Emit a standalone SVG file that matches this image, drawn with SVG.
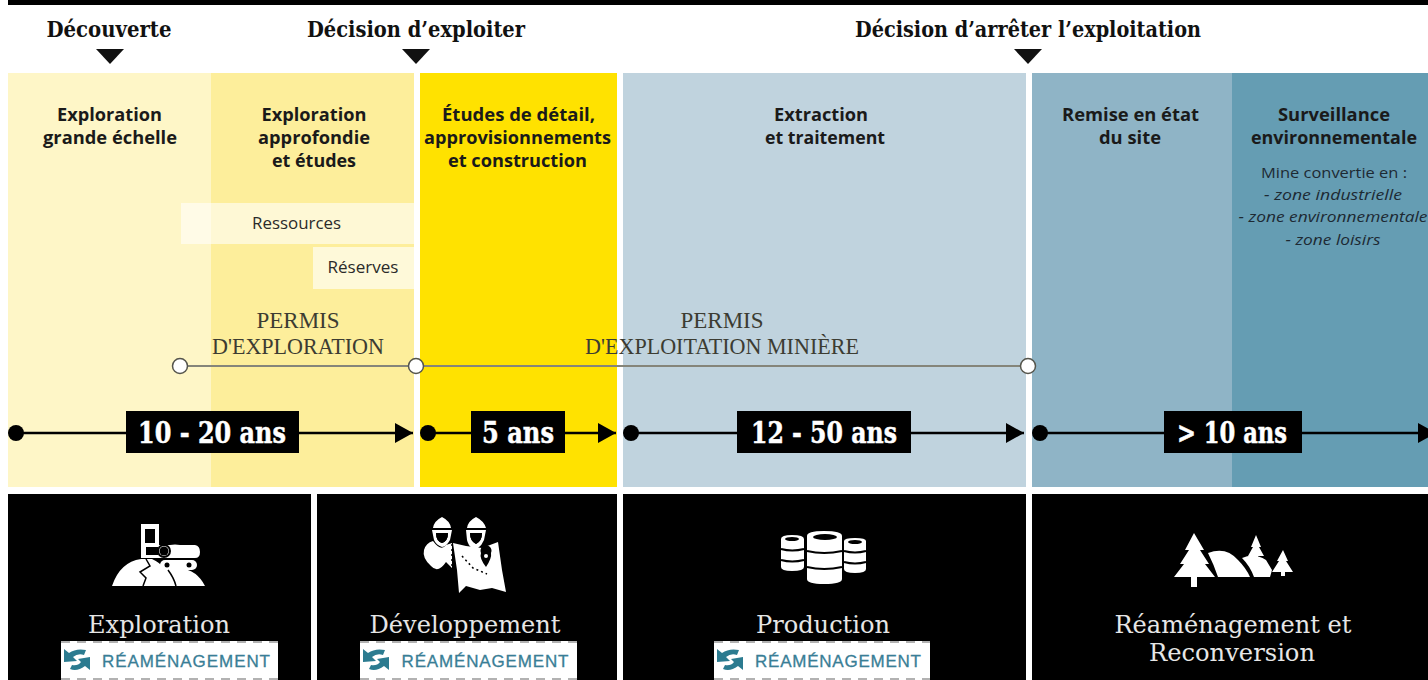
<svg xmlns="http://www.w3.org/2000/svg" width="1428" height="680" viewBox="0 0 1428 680">
<style>
.h{font-family:"DejaVu Serif","Liberation Serif",serif;font-weight:700;font-size:23px;fill:#111;text-anchor:middle}
.s{font-family:"Open Sans","Noto Sans",sans-serif;font-weight:700;font-size:18.5px;fill:#1a1a1a;text-anchor:middle}
.n{font-family:"Open Sans","Noto Sans",sans-serif;font-size:16px;fill:#2a2a2a;text-anchor:middle}
.z{font-family:"Open Sans","Noto Sans",sans-serif;font-size:15px;fill:#1d2a33;text-anchor:middle}
.p{font-family:"Liberation Serif",serif;font-size:23px;fill:#3c3c32;text-anchor:middle}
.d{font-family:"DejaVu Serif",serif;font-weight:700;font-size:29px;fill:#fff;stroke:#fff;stroke-width:.5;text-anchor:middle}
.t{font-family:"DejaVu Serif","Liberation Serif",serif;font-weight:400;font-size:25px;fill:#e6e6e6;text-anchor:middle}
.r{font-family:"Liberation Sans",Arial,sans-serif;font-size:17px;fill:#397e96;stroke:#397e96;stroke-width:.3;text-anchor:middle}
.a{stroke:#000;stroke-width:2.5;fill:none;marker-end:url(#ah)}
.g{stroke:#85857a;stroke-width:2;fill:none}
.c{fill:#fff;stroke:#55554c;stroke-width:1.5}
.dot{fill:#000}
.tag{fill:#fff;stroke:none}
.dash{stroke:#999;stroke-width:1.5;stroke-dasharray:9 7;fill:none}
.ic{fill:#fff}
.ick{fill:#000}
.ar{fill:#2b7b90}
</style>
<defs>
<marker id="ah" markerUnits="userSpaceOnUse" markerWidth="20" markerHeight="22" refX="18" refY="10" orient="auto"><path d="M0 0L18 10L0 20Z" fill="#000"/></marker>
<g id="reicon"><path class="ar" d="M1 0L6 4Q13 -1 23 1L21 6Q15 4 10 8L14 12L1 13Z"/><path class="ar" d="M27 8L27 21L22 17Q14 23 7 20L9 16Q15 17 18 13L15 10Z"/></g>
</defs>
<rect x="8" y="0" width="1420" height="5" fill="#000"/>
<g id="milestones">
<text class="h" x="109" y="37" textLength="125" lengthAdjust="spacingAndGlyphs">Découverte</text>
<path d="M96 49H124L110 64Z" fill="#111"/>
<text class="h" x="416" y="37" textLength="218" lengthAdjust="spacingAndGlyphs">Décision d’exploiter</text>
<path d="M402 49H430L416 64Z" fill="#111"/>
<text class="h" x="1028" y="37" textLength="346" lengthAdjust="spacingAndGlyphs">Décision d’arrêter l’exploitation</text>
<path d="M1014 49H1042L1028 64Z" fill="#111"/>
</g>
<g id="phase-exploration">
<rect x="8" y="73" width="203" height="414" fill="#fef6c7"/>
<rect x="211" y="73" width="203" height="414" fill="#fdee9b"/>
<rect x="181" y="203" width="233" height="41" fill="#fff" fill-opacity=".58"/>
<rect x="313" y="247" width="101" height="42" fill="#fff" fill-opacity=".62"/>
<text class="s" x="109.500" y="121" textLength="105" lengthAdjust="spacingAndGlyphs">Exploration</text><text class="s" x="110" y="144" textLength="134" lengthAdjust="spacingAndGlyphs">grande échelle</text>
<text class="s" x="314" y="121" textLength="105" lengthAdjust="spacingAndGlyphs">Exploration</text><text class="s" x="314" y="144" textLength="112" lengthAdjust="spacingAndGlyphs">approfondie</text><text class="s" x="314" y="167" textLength="84" lengthAdjust="spacingAndGlyphs">et études</text>
<text class="n" x="296.500" y="229" textLength="89" lengthAdjust="spacingAndGlyphs">Ressources</text><text class="n" x="363" y="273" textLength="71" lengthAdjust="spacingAndGlyphs">Réserves</text>
</g>
<g id="phase-construction">
<rect x="420" y="73" width="197" height="414" fill="#ffe200"/>
<text class="s" x="518.500" y="121" textLength="153" lengthAdjust="spacingAndGlyphs">Études de détail,</text><text class="s" x="517.500" y="144" textLength="187" lengthAdjust="spacingAndGlyphs">approvisionnements</text><text class="s" x="517.500" y="167" textLength="139" lengthAdjust="spacingAndGlyphs">et construction</text>
</g>
<g id="phase-extraction">
<rect x="623" y="73" width="403" height="414" fill="#c0d3de"/>
<text class="s" x="821" y="121" textLength="94" lengthAdjust="spacingAndGlyphs">Extraction</text><text class="s" x="825" y="144" textLength="120" lengthAdjust="spacingAndGlyphs">et traitement</text>
</g>
<g id="phase-closure">
<rect x="1032" y="73" width="200" height="414" fill="#8fb4c6"/>
<rect x="1232" y="73" width="196" height="414" fill="#659db3"/>
<text class="s" x="1130.500" y="121" textLength="137" lengthAdjust="spacingAndGlyphs">Remise en état</text><text class="s" x="1130" y="144" textLength="62" lengthAdjust="spacingAndGlyphs">du site</text>
<text class="s" x="1334" y="121" textLength="112" lengthAdjust="spacingAndGlyphs">Surveillance</text><text class="s" x="1334" y="144" textLength="166" lengthAdjust="spacingAndGlyphs">environnementale</text>
<text class="z" x="1334" y="178" textLength="146" lengthAdjust="spacingAndGlyphs">Mine convertie en :</text><text class="z" x="1333" y="200" font-style="italic" textLength="138" lengthAdjust="spacingAndGlyphs">- zone industrielle</text><text class="z" x="1333" y="222" font-style="italic" textLength="189" lengthAdjust="spacingAndGlyphs">- zone environnementale</text><text class="z" x="1333" y="245" font-style="italic" textLength="95" lengthAdjust="spacingAndGlyphs">- zone loisirs</text>
</g>
<g id="permits">
<text class="p" x="298" y="328" textLength="83" lengthAdjust="spacingAndGlyphs">PERMIS</text><text class="p" x="298" y="354" textLength="172" lengthAdjust="spacingAndGlyphs">D'EXPLORATION</text>
<text class="p" x="722" y="328" textLength="83" lengthAdjust="spacingAndGlyphs">PERMIS</text><text class="p" x="722" y="354" textLength="274" lengthAdjust="spacingAndGlyphs">D'EXPLOITATION MINIÈRE</text>
</g>
<g id="connectors">
<path class="g" d="M180 366H1028"/>
<circle class="c" cx="180" cy="366" r="7.500"/><circle class="c" cx="416" cy="366" r="7.500"/><circle class="c" cx="1028" cy="366" r="7.500"/>
<path class="a" d="M16 433H413"/><circle class="dot" cx="16" cy="433" r="8"/>
<path class="a" d="M428 433H616"/><circle class="dot" cx="428" cy="433" r="8"/>
<path class="a" d="M631 433H1024"/><circle class="dot" cx="631" cy="433" r="8"/>
<path class="a" d="M1040 433H1436"/><circle class="dot" cx="1040" cy="433" r="8"/>
</g>
<g id="durations">
<rect x="126" y="411" width="173" height="42" fill="#000"/><text class="d" x="212" y="443" textLength="148" lengthAdjust="spacingAndGlyphs">10 - 20 ans</text>
<rect x="471" y="411" width="94" height="42" fill="#000"/><text class="d" x="518" y="443" textLength="72" lengthAdjust="spacingAndGlyphs">5 ans</text>
<rect x="737" y="411" width="174" height="42" fill="#000"/><text class="d" x="824" y="443" textLength="146" lengthAdjust="spacingAndGlyphs">12 - 50 ans</text>
<rect x="1164" y="411" width="138" height="42" fill="#000"/><text class="d" x="1232" y="443" textLength="110" lengthAdjust="spacingAndGlyphs">&gt; 10 ans</text>
</g>
<g id="stage-exploration">
<rect x="8" y="494" width="303" height="186" fill="#000"/>
<path class="ic" d="M112 586Q120 562 141 559L152 559Q168 566 172 586ZM161 568H180Q197 570 205 586H172Q170 576 161 568Z"/>
<path class="ic" d="M141 524H159V545H170Q175 544 180 545H195Q200 546 200 552Q200 558 195 558H170Q166 558 164 558H141Z"/>
<rect class="ick" x="145" y="529" width="10" height="14"/>
<rect class="ick" x="146" y="547" width="12" height="8"/>
<circle class="ick" cx="164" cy="551" r="7"/><circle class="ic" cx="164" cy="551" r="5"/><circle class="ick" cx="164" cy="551" r="4.500"/>
<rect class="ic" x="160" y="560" width="37" height="10" rx="5"/><circle class="ick" cx="167" cy="565" r="2.500"/><circle class="ick" cx="189" cy="565" r="2.500"/>
<path d="M146 559L150 566L140 572L146 578L143 586" stroke="#000" stroke-width="1.500" fill="none"/>
<path d="M168 570Q174 578 176 586" stroke="#000" stroke-width="1.500" fill="none"/>
<text class="t" x="159" y="633" textLength="142" lengthAdjust="spacingAndGlyphs">Exploration</text>
<rect class="tag" x="61" y="641" width="217" height="39"/>
<path class="dash" d="M61 642H278M61 679H278"/>
<use href="#reicon" x="63" y="649"/>
<text class="r" x="186" y="667" textLength="168" lengthAdjust="spacing">RÉAMÉNAGEMENT</text>
</g>
<g id="stage-developpement">
<rect x="317" y="494" width="300" height="186" fill="#000"/>
<path class="ic" d="M433 528Q434 521 442 517Q450 521 451 528ZM467 528Q468 521 476 517Q484 521 486 528Z"/>
<path class="ic" fill-rule="evenodd" d="M432 530H452L450 540Q446 547 442 547Q436 545 434 540ZM436 533Q436 541 442 543Q448 541 448 533ZM466 530H486L484 540Q482 545 478 548H472Q468 545 467 540ZM470 533Q470 541 476 544Q482 541 482 533Z"/>
<path class="ick" d="M436 533H448Q448 541 442 543Q436 541 436 533ZM470 533H482Q482 541 476 544Q470 541 470 533Z"/>
<path class="ic" d="M433 541Q441 552 446 545L452 543V568L446 562Q438 574 431 566Q422 558 424 550Q426 543 433 541Z"/>
<path class="ic" d="M453 543L466 546L482 548L498 542L502 570L506 592L492 588L480 590L466 586L459 593L457 570Z"/>
<path d="M452 544V568M462 556L473 568L487 574" stroke="#000" stroke-width="1.500" stroke-dasharray="2 3" fill="none"/>
<path d="M486 567Q479 558 481 553A5.500 5.500 0 1 1 491 553Q492 558 486 567Z" fill="#000"/><circle class="ic" cx="486" cy="556" r="2"/>
<text class="t" x="465" y="633" textLength="191" lengthAdjust="spacingAndGlyphs">Développement</text>
<rect class="tag" x="360" y="641" width="217" height="39"/>
<path class="dash" d="M360 642H577M360 679H577"/>
<use href="#reicon" x="362" y="649"/>
<text class="r" x="485" y="667" textLength="167" lengthAdjust="spacing">RÉAMÉNAGEMENT</text>
</g>
<g id="stage-production">
<rect x="623" y="494" width="403" height="186" fill="#000"/>
<path class="ic" d="M781 539Q781 535 792 535Q804 535 804 539V567Q804 571 792 571Q781 571 781 567Z"/>
<path class="ic" d="M844 541Q844 538 855 538Q866 538 866 541V569Q866 573 855 573Q844 573 844 569Z"/>
<path class="ic" d="M807 536Q807 531 824 531Q842 531 842 536V579Q842 584 824 584Q807 584 807 579Z"/>
<ellipse class="ick" cx="825" cy="537" rx="12" ry="3"/><ellipse class="ick" cx="792" cy="539" rx="7" ry="2"/><ellipse class="ick" cx="855" cy="542" rx="7" ry="2"/>
<path d="M807 551Q824 555 842 551M807 567Q824 571 842 567M781 549Q792 552 804 549M781 560Q792 563 804 560M844 551Q855 554 866 551M844 562Q855 565 866 562" stroke="#000" stroke-width="2" fill="none"/>
<text class="t" x="823" y="633" textLength="134" lengthAdjust="spacingAndGlyphs">Production</text>
<rect class="tag" x="714" y="641" width="216" height="39"/>
<path class="dash" d="M714 642H930M714 679H930"/>
<use href="#reicon" x="716" y="649"/>
<text class="r" x="838" y="667" textLength="166" lengthAdjust="spacing">RÉAMÉNAGEMENT</text>
</g>
<g id="stage-reconversion">
<rect x="1032" y="494" width="396" height="186" fill="#000"/>
<path class="ic" d="M1208 553Q1226 546 1238 560Q1246 568 1250 577H1218Q1214 565 1208 553Z"/>
<path class="ic" d="M1242 558Q1254 552 1266 560L1272 570L1270 577H1254Q1250 566 1242 558Z"/>
<path class="ic" d="M1194 533L1204 550L1200 550L1209 564L1205 564L1215 577H1197V587H1191V577H1174L1184 564L1180 564L1189 550L1185 550Z"/>
<path class="ic" d="M1256 535L1261 547L1259 547L1264 556H1258V558H1254V556H1248L1253 547L1251 547Z"/>
<path class="ic" d="M1283 550L1288 561L1286 561L1293 572H1285V576H1281V572H1272L1279 561L1277 561Z"/>
<text class="t" x="1233" y="633" textLength="237" lengthAdjust="spacingAndGlyphs">Réaménagement et</text>
<text class="t" x="1232" y="661" textLength="166" lengthAdjust="spacingAndGlyphs">Reconversion</text>
</g>
</svg>
